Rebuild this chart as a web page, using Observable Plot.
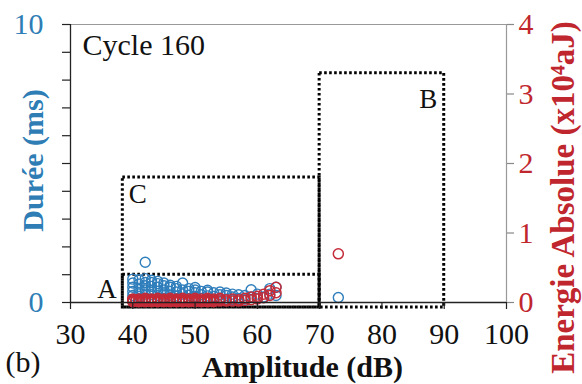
<!DOCTYPE html>
<html><head><meta charset="utf-8">
<script src="https://cdn.jsdelivr.net/npm/d3@7"></script>
<script src="https://cdn.jsdelivr.net/npm/@observablehq/plot@0.6"></script>
<style>
body{margin:0;background:#fff}
#chart{width:582px;height:384px}
#chart svg, #chart svg text{font-family:"Liberation Serif","Times New Roman",serif !important}
</style>
</head><body><div id="chart"></div>
<script>
// ---- data ----
const xTicks = [30, 40, 50, 60, 70, 80, 90, 100];
const dureeMinorTicks = [0,1,2,3,4,5,6,7,8,9,10];
const dureeTickLabels = [0, 10];
const energieTicks = [0, 1, 2, 3, 4];
const cycleLabel = "Cycle 160";
const panelLabel = "(b)";
const xTitle = "Amplitude (dB)";
const dureeTitle = "Durée (ms)";
const energieTitle = "Energie Absolue (x10⁴aJ)";

// Durée (ms) per amplitude (dB)
const dureeByAmp = [
  [40, [0.12, 0.25, 0.4, 0.55, 0.7, 0.84]],
  [41, [0.1, 0.22, 0.35, 0.5, 0.66, 0.82]],
  [42, [0.15, 0.3, 0.45, 0.6, 0.72, 0.86, 1.45]],
  [43, [0.12, 0.28, 0.42, 0.58, 0.72, 0.8]],
  [44, [0.1, 0.25, 0.4, 0.55, 0.68, 0.76]],
  [45, [0.15, 0.3, 0.45, 0.6, 0.7]],
  [46, [0.12, 0.26, 0.4, 0.55, 0.62]],
  [47, [0.1, 0.24, 0.38, 0.5, 0.58]],
  [48, [0.15, 0.3, 0.45, 0.7]],
  [49, [0.12, 0.26, 0.4, 0.5]],
  [50, [0.1, 0.22, 0.35, 0.45, 0.54]],
  [51, [0.15, 0.28, 0.4]],
  [52, [0.12, 0.24, 0.38, 0.44]],
  [53, [0.1, 0.22, 0.35]],
  [54, [0.15, 0.28, 0.38]],
  [55, [0.12, 0.25, 0.34]],
  [56, [0.1, 0.2, 0.3]],
  [57, [0.15, 0.28]],
  [58, [0.12, 0.25]],
  [59, [0.2, 0.46]],
  [60, [0.15, 0.3]],
  [61, [0.2]],
  [62, [0.3, 0.5]],
  [63, [0.25, 0.55]],
  [73, [0.18]]
];

// Energie absolue (x10^4 aJ) per amplitude (dB)
const energieByAmp = [
  [40, [0.01, 0.02, 0.03, 0.04, 0.05]],
  [40.5, [0.02, 0.04]],
  [41, [0.01, 0.02, 0.03, 0.05]],
  [41.5, [0.02, 0.04]],
  [42, [0.01, 0.02, 0.04, 0.06]],
  [42.5, [0.02, 0.04]],
  [43, [0.01, 0.03, 0.04, 0.05]],
  [43.5, [0.02, 0.04]],
  [44, [0.01, 0.02, 0.04, 0.06]],
  [44.5, [0.02, 0.04]],
  [45, [0.01, 0.03, 0.04, 0.05]],
  [45.5, [0.02, 0.04]],
  [46, [0.01, 0.02, 0.04, 0.06]],
  [46.5, [0.02, 0.04]],
  [47, [0.01, 0.03, 0.04, 0.05]],
  [47.5, [0.02, 0.04]],
  [48, [0.01, 0.02, 0.04, 0.06]],
  [48.5, [0.02, 0.04]],
  [49, [0.01, 0.03, 0.05]],
  [49.5, [0.02, 0.04]],
  [50, [0.01, 0.02, 0.04, 0.06]],
  [50.5, [0.02, 0.04]],
  [51, [0.01, 0.03, 0.05]],
  [51.5, [0.02, 0.04]],
  [52, [0.01, 0.02, 0.04, 0.06]],
  [52.5, [0.02, 0.04]],
  [53, [0.01, 0.03, 0.05]],
  [54, [0.02, 0.04, 0.06]],
  [55, [0.02, 0.04]],
  [56, [0.02, 0.05]],
  [57, [0.02, 0.04]],
  [58, [0.03, 0.06]],
  [59, [0.04, 0.08]],
  [60, [0.05, 0.09]],
  [61, [0.07, 0.12]],
  [62, [0.1, 0.17]],
  [63, [0.14, 0.22]],
  [73, [0.7]]
];

// dotted zones: amplitude range and durée range (ms)
const zoneNames = ["C", "A", "B"];
const zoneAmpStart = [38.4, 38.4, 70];
const zoneAmpEnd = [70, 70, 90];
const zoneDureeLow = [-0.18, -0.18, -0.18];
const zoneDureeHigh = [4.5, 1.0, 8.25];

// ---- build tables ----
const ENERGY_TO_MS = 10 / 4; // right axis 0..4 maps to left axis 0..10
const duree = dureeByAmp.flatMap(([a, vs]) => vs.map(v => ({amp: a, ms: v})));
const energie = energieByAmp.flatMap(([a, vs]) => vs.map(v => ({amp: a, e: v})));
const zones = zoneNames.map((n, i) => ({name: n, a1: zoneAmpStart[i], a2: zoneAmpEnd[i], d1: zoneDureeLow[i], d2: zoneDureeHigh[i]}));

const BLUE = "#2f7ebc";
const BLUE_TEXT = "#2e7db5";
const RED = "#c42c38";
const RED_TEXT = "#c0262d";
const FONT = '"Liberation Serif", "Times New Roman", serif';

const plot = Plot.plot({
  width: 582,
  height: 384,
  marginLeft: 70,
  marginRight: 76,
  marginTop: 24,
  marginBottom: 82,
  style: {fontFamily: FONT, fontSize: "30px", background: "#fff", overflow: "visible"},
  x: {domain: [30, 100]},
  y: {domain: [0, 10]},
  marks: [
    // zones
    Plot.rect(zones, {x1: "a1", x2: "a2", y1: "d1", y2: "d2", fill: "none", stroke: "#000", strokeWidth: 3, strokeDasharray: "2.6,2.4"}),
    Plot.text(zones.filter(d => d.name === "A"), {x: "a1", y: "d1", text: "name", textAnchor: "end", lineAnchor: "middle", dx: -6, dy: -18, fontSize: 27, fontFamily: FONT, fill: "#111"}),
    Plot.text(zones.filter(d => d.name === "C"), {x: "a1", y: "d2", text: "name", textAnchor: "start", lineAnchor: "middle", dx: 6, dy: 17, fontSize: 27, fontFamily: FONT, fill: "#111"}),
    Plot.text(zones.filter(d => d.name === "B"), {x: "a2", y: "d2", text: "name", textAnchor: "end", lineAnchor: "middle", dx: -7, dy: 26, fontSize: 27, fontFamily: FONT, fill: "#111"}),
    // data
    Plot.dot(duree, {x: "amp", y: "ms", r: 5, stroke: BLUE, strokeWidth: 1.4, fill: "none"}),
    Plot.dot(energie, {x: "amp", y: d => d.e * ENERGY_TO_MS, r: 5, stroke: RED, strokeWidth: 1.5, fill: "none"}),
    // frame
    Plot.ruleY([10], {x1: 30, x2: 100, stroke: "#999", strokeWidth: 1.2}),
    Plot.ruleX([100], {y1: 0, y2: 10, stroke: "#999", strokeWidth: 1.2}),
    Plot.ruleX([30], {y1: 0, y2: 10, stroke: "#222", strokeWidth: 1.3}),
    Plot.ruleY([0], {x1: 30, x2: 100, stroke: "#222", strokeWidth: 1.3}),
    // x axis
    Plot.axisX({ticks: xTicks, tickSize: 7, tickFormat: () => "", stroke: "#222", strokeWidth: 1.2}),
    Plot.axisX({ticks: xTicks, tickSize: 0, tickPadding: 20, fontSize: 30, fontFamily: FONT, fill: "#111", tickFormat: d => String(d), label: null}),
    // left axis
    Plot.axisY({ticks: dureeMinorTicks, anchor: "left", tickSize: 8, tickFormat: () => "", stroke: "#222", strokeWidth: 1.2, label: null}),
    Plot.axisY({ticks: dureeTickLabels, anchor: "left", tickSize: 0, tickPadding: 27, fontSize: 30, fontFamily: FONT, fill: BLUE_TEXT, tickFormat: d => String(d), label: null}),
    // right axis (energie)
    Plot.axisY(energieTicks.map(t => t * ENERGY_TO_MS), {anchor: "right", tickSize: 7, tickFormat: () => "", stroke: "#888", strokeWidth: 1.2, label: null}),
    Plot.axisY(energieTicks.map(t => t * ENERGY_TO_MS), {anchor: "right", tickSize: 0, tickPadding: 12, fontSize: 30, fontFamily: FONT, fill: RED_TEXT, tickFormat: d => String(d / ENERGY_TO_MS), label: null}),
    // texts
    Plot.text([cycleLabel], {frameAnchor: "top-left", text: d => d, textAnchor: "start", lineAnchor: "middle", dx: 12, dy: 21, fontSize: 30, fontFamily: FONT, fill: "#111"}),
    Plot.text([panelLabel], {frameAnchor: "bottom-left", text: d => d, textAnchor: "start", lineAnchor: "middle", dx: -65, dy: 60, fontSize: 30, fontFamily: FONT, fill: "#111"}),
    Plot.text([xTitle], {frameAnchor: "bottom", text: d => d, textAnchor: "middle", lineAnchor: "middle", dx: 14, dy: 65, fontSize: 30, fontFamily: FONT, fontWeight: "bold", fill: "#111"}),
    Plot.text([dureeTitle], {frameAnchor: "left", text: d => d, rotate: -90, textAnchor: "middle", lineAnchor: "middle", dx: -37, dy: -3, fontSize: 30, fontFamily: FONT, fontWeight: "bold", fill: BLUE_TEXT}),
    Plot.text([energieTitle], {frameAnchor: "right", text: d => d, rotate: -90, textAnchor: "middle", lineAnchor: "middle", dx: 57, dy: 34, fontSize: 33, fontFamily: FONT, fontWeight: "bold", fill: RED_TEXT})
  ]
});
document.getElementById("chart").appendChild(plot);
</script>
</body></html>
